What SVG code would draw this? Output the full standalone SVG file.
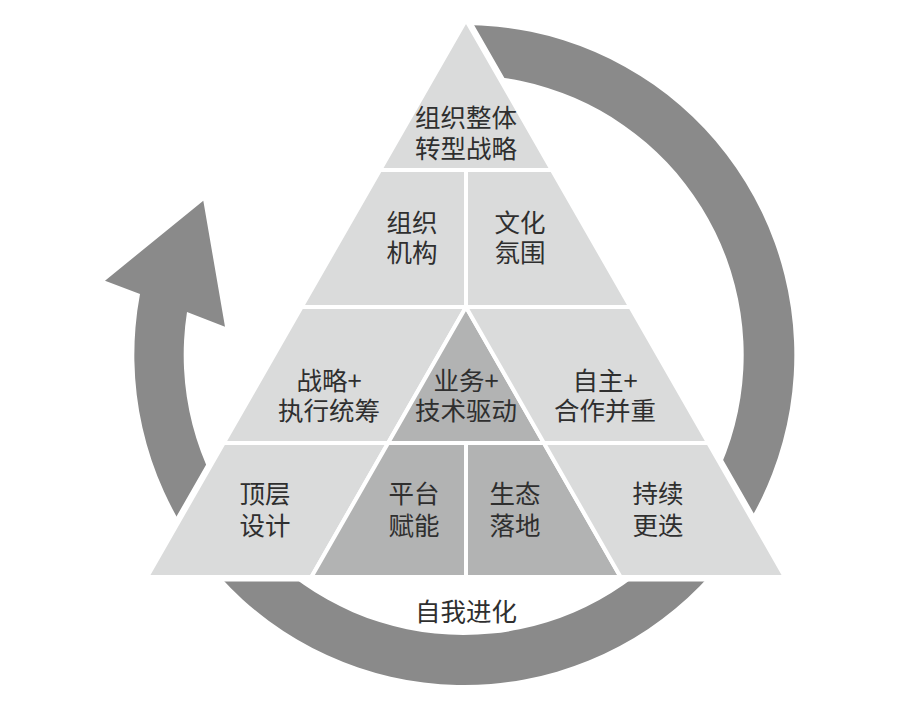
<svg xmlns="http://www.w3.org/2000/svg" width="900" height="707" viewBox="0 0 900 707">
  <style>
    .light { fill: #dadbdb; stroke: #ffffff; stroke-width: 4; stroke-linejoin: miter; }
    .dark { fill: #b2b3b3; stroke: #ffffff; stroke-width: 4; stroke-linejoin: miter; }
    .lbl { font-family: "Noto Sans CJK SC", "Noto Sans", sans-serif; font-size: 25.5px; fill: #2f2f2f; text-anchor: middle; }
  </style>
  <rect x="0" y="0" width="900" height="707" fill="#ffffff"/>

  <g id="connectors">
    <path id="cycle-arrow" fill="#8a8a8a"
      d="M 464 25 A 330 330 0 1 1 140 294.1 L 105 280.7 L 203.3 200.7 L 225 326.7 L 187 312.1 A 280 280 0 1 0 464 75 Z"/>
  </g>

  <polygon id="pyramid-backing" points="466,20 785,577 147,577" fill="#ffffff" stroke="#ffffff" stroke-width="9"/>

  <g id="tier1">
    <polygon class="light" points="466,20 551.9,170 380.1,170"/>
    <text class="lbl" x="466" y="127">组织整体<tspan x="466" dy="31">转型战略</tspan></text>
  </g>

  <g id="org-structure">
    <polygon class="light" points="380.1,170 466,170 466,307 301.6,307"/>
    <text class="lbl" x="412" y="232">组织<tspan x="412" dy="30">机构</tspan></text>
  </g>
  <g id="culture">
    <polygon class="light" points="466,170 551.9,170 630.4,307 466,307"/>
    <text class="lbl" x="520" y="232">文化<tspan x="520" dy="30">氛围</tspan></text>
  </g>

  <g id="strategy-execution">
    <polygon class="light" points="301.6,307 466,307 388.1,443 223.7,443"/>
    <text class="lbl" x="329" y="390">战略+<tspan x="329" dy="30">执行统筹</tspan></text>
  </g>
  <g id="business-tech">
    <polygon class="dark" points="466,307 543.9,443 388.1,443"/>
    <text class="lbl" x="466" y="390">业务+<tspan x="466" dy="30">技术驱动</tspan></text>
  </g>
  <g id="autonomy-cooperation">
    <polygon class="light" points="466,307 630.4,307 708.3,443 543.9,443"/>
    <text class="lbl" x="605" y="390">自主+<tspan x="605" dy="30">合作并重</tspan></text>
  </g>

  <g id="top-design">
    <polygon class="light" points="223.7,443 388.1,443 311.4,577 147,577"/>
    <text class="lbl" x="265" y="503">顶层<tspan x="265" dy="32">设计</tspan></text>
  </g>
  <g id="platform">
    <polygon class="dark" points="388.1,443 466,443 466,577 311.4,577"/>
    <text class="lbl" x="414" y="503">平台<tspan x="414" dy="32">赋能</tspan></text>
  </g>
  <g id="ecosystem">
    <polygon class="dark" points="466,443 543.9,443 620.6,577 466,577"/>
    <text class="lbl" x="515" y="503">生态<tspan x="515" dy="32">落地</tspan></text>
  </g>
  <g id="continuous-iteration">
    <polygon class="light" points="543.9,443 708.3,443 785,577 620.6,577"/>
    <text class="lbl" x="658" y="503">持续<tspan x="658" dy="32">更迭</tspan></text>
  </g>

  <g id="self-evolution">
    <text class="lbl" x="466" y="621">自我进化</text>
  </g>
</svg>
